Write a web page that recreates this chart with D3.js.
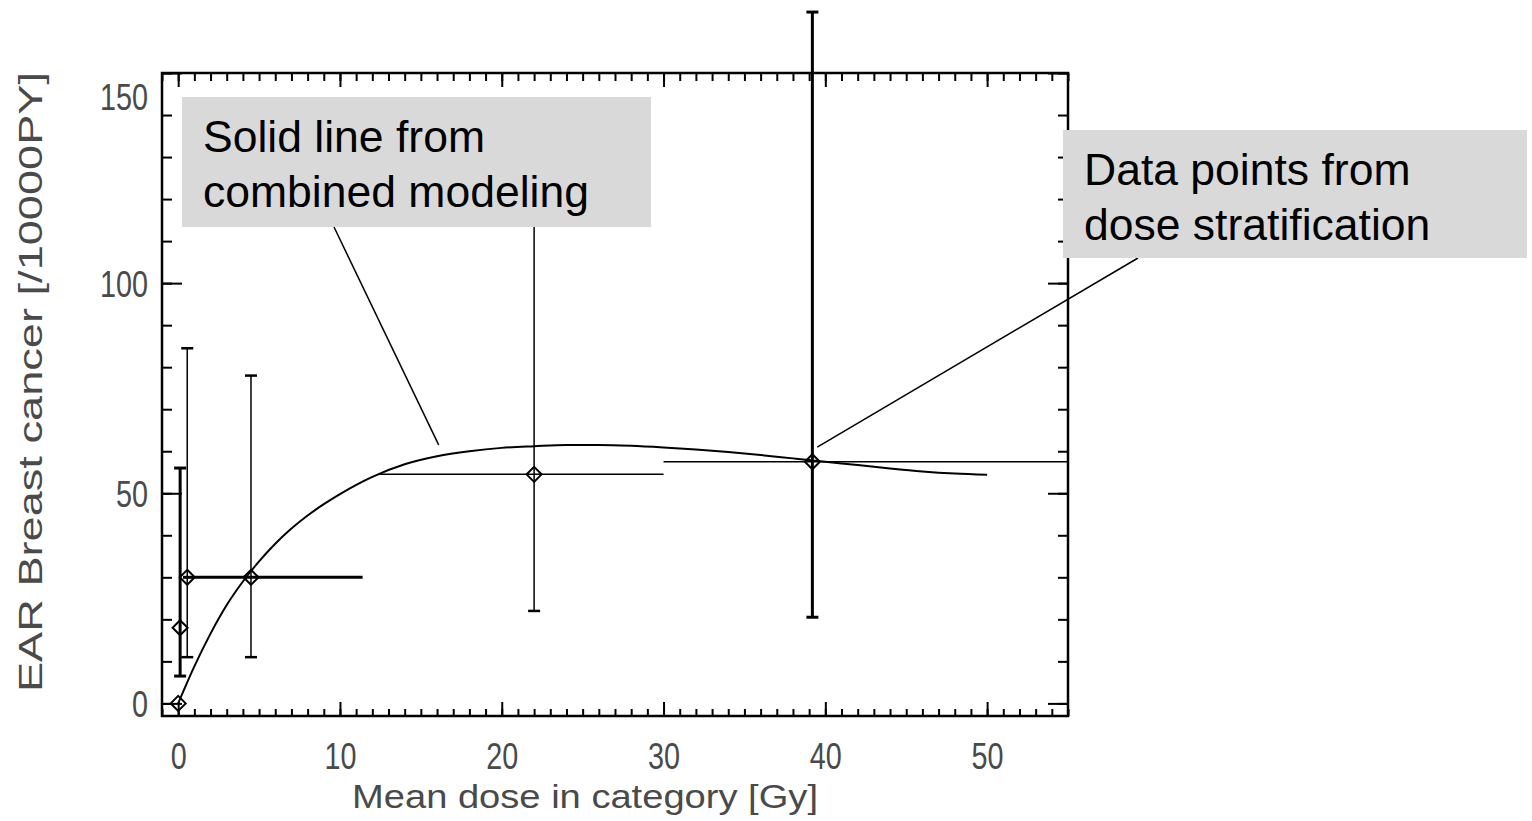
<!DOCTYPE html>
<html><head><meta charset="utf-8">
<script src="https://cdn.jsdelivr.net/npm/d3@7"></script>
<style>html,body{margin:0;padding:0;background:#fff;overflow:hidden}</style>
</head><body><svg id="c" width="1532" height="821"></svg>
<script>
// ---- data ----
const doseX    = [0, 0.12, 0.56, 4.5, 22.0, 39.2];
const earY     = [0, 18, 30, 30, 54.5, 57.5];
const earLow   = [0, 6.5, 11, 11, 22, 20.5];
const earHigh  = [0, 56, 84.5, 78, 125, 164.5];
const doseLow  = [0, 0.12, 0.3, 1.0, 12.4, 30];
const doseHigh = [0, 0.12, 1.0, 11.4, 30, 55];

const modelDose = [0,1,2,3,4,5,6,7,8,9,10,12,14,16,18,20,22,24,26,28,30,32,34,36,38,40,42,44,46,48,50];
const modelEAR  = [0,8.8,16.6,23.4,29.0,33.8,38.0,41.6,44.7,47.4,49.8,53.9,56.9,58.8,60.0,60.8,61.2,61.5,61.5,61.3,60.9,60.4,59.8,59.1,58.3,57.5,56.7,55.9,55.2,54.7,54.4];

const xMajorTicks = [0,10,20,30,40,50];
const yMajorTicks = [0,50,100,150];
const xTitle = "Mean dose in category [Gy]";
const yTitle = "EAR Breast cancer [/10000PY]";
const note1 = ["Solid line from", "combined modeling"];
const note2 = ["Data points from", "dose stratification"];
const note1Target = [16.1, 61.5];
const note2Target = [39.5, 61];

// ---- styles ----
const vBarWidth = [0, 3, 1.5, 1.5, 1.5, 3];
const hBarWidth = [0, 0, 3, 3, 1.5, 1.5];

const svg = d3.select("#c");
const L = 162, R = 1068, T = 73, B = 716;
const x = d3.scaleLinear().domain([-1, 55]).range([L, R]);
const y = d3.scaleLinear().domain([-3, 150]).range([B, T]);

const tickFont = "'Liberation Sans Narrow', 'Liberation Sans', sans-serif";
const labColor = "#4a4a4a";

const xMinor = d3.range(-1, 56, 1);
const yMinor = d3.range(0, 151, 10);
function styleAxis(g){ g.select(".domain").remove(); g.selectAll("line").attr("stroke","#000").attr("stroke-width",2); }
function styleLabels(g){
  g.selectAll("text").attr("font-family",tickFont).attr("font-size",36).attr("fill",labColor)
    .attr("textLength", function(){ return this.textContent.length*16; })
    .attr("lengthAdjust","spacingAndGlyphs");
}

svg.append("g").attr("transform",`translate(0,${B})`)
  .call(d3.axisBottom(x).tickValues(xMinor).tickSize(-7).tickFormat("")).call(styleAxis);
svg.append("g").attr("transform",`translate(0,${T})`)
  .call(d3.axisTop(x).tickValues(xMinor).tickSize(-8).tickFormat("")).call(styleAxis);
svg.append("g").attr("transform",`translate(0,${B})`)
  .call(d3.axisBottom(x).tickValues(xMajorTicks).tickSize(-14).tickPadding(27).tickFormat(d3.format("d")))
  .call(styleAxis).call(styleLabels);
svg.append("g").attr("transform",`translate(0,${T})`)
  .call(d3.axisTop(x).tickValues(xMajorTicks).tickSize(-14).tickFormat("")).call(styleAxis);

svg.append("g").attr("transform",`translate(${L},0)`)
  .call(d3.axisLeft(y).tickValues(yMinor).tickSize(-10).tickFormat("")).call(styleAxis);
svg.append("g").attr("transform",`translate(${R},0)`)
  .call(d3.axisRight(y).tickValues(yMinor).tickSize(-10).tickFormat("")).call(styleAxis);
svg.append("g").attr("transform",`translate(${L},0)`)
  .call(d3.axisLeft(y).tickValues(yMajorTicks).tickSize(-20).tickPadding(14).tickFormat(d3.format("d")))
  .call(styleAxis).call(styleLabels)
  .call(g=>g.selectAll("text").attr("dy", d => d === 150 ? "1.0em" : "0.36em"));
svg.append("g").attr("transform",`translate(${R},0)`)
  .call(d3.axisRight(y).tickValues(yMajorTicks).tickSize(-20).tickFormat("")).call(styleAxis);

// frame
svg.append("rect").attr("x",L).attr("y",T).attr("width",R-L).attr("height",B-T)
  .attr("fill","none").attr("stroke","#000").attr("stroke-width",2.5);

// axis titles
svg.append("text").attr("x",585).attr("y",808).attr("text-anchor","middle")
  .attr("font-family",tickFont).attr("font-size",34).attr("fill",labColor)
  .attr("textLength",466).attr("lengthAdjust","spacingAndGlyphs").text(xTitle);
svg.append("text").attr("transform","translate(42,382) rotate(-90)").attr("text-anchor","middle")
  .attr("font-family",tickFont).attr("font-size",34).attr("fill",labColor)
  .attr("textLength",620).attr("lengthAdjust","spacingAndGlyphs").text(yTitle);

// model curve
const curve = modelDose.map((d,i)=>[d, modelEAR[i]]);
svg.append("path").datum(curve)
  .attr("d", d3.line().x(d=>x(d[0])).y(d=>y(d[1])).curve(d3.curveMonotoneX))
  .attr("fill","none").attr("stroke","#000").attr("stroke-width",2);

// error bars
const pts = doseX.map((d,i)=>({i, x:d, y:earY[i], lo:earLow[i], hi:earHigh[i], xlo:doseLow[i], xhi:doseHigh[i]}));
const eb = svg.append("g");
pts.forEach(p=>{
  const vw = vBarWidth[p.i], hw = hBarWidth[p.i];
  if (vw > 0 && p.hi > p.lo) {
    eb.append("line").attr("x1",x(p.x)).attr("x2",x(p.x)).attr("y1",y(p.lo)).attr("y2",y(p.hi))
      .attr("stroke","#000").attr("stroke-width",vw);
    [p.lo,p.hi].forEach(v=>{
      eb.append("line").attr("x1",x(p.x)-6).attr("x2",x(p.x)+6).attr("y1",y(v)).attr("y2",y(v))
        .attr("stroke","#000").attr("stroke-width",Math.max(vw,2.5));
    });
  }
  if (hw > 0 && p.xhi > p.xlo) {
    eb.append("line").attr("x1",x(p.xlo)).attr("x2",x(p.xhi)).attr("y1",y(p.y)).attr("y2",y(p.y))
      .attr("stroke","#000").attr("stroke-width",hw);
  }
});
// diamond markers
svg.append("g").selectAll("path").data(pts).join("path")
  .attr("d", p=>{const cx=x(p.x), cy=y(p.y), r=7.5; return `M${cx},${cy-r}L${cx+r},${cy}L${cx},${cy+r}L${cx-r},${cy}Z`;})
  .attr("fill","none").attr("stroke","#000").attr("stroke-width",2);

// annotations
const box1 = {x0:182, y0:97, x1:651, y1:227};
const box2 = {x0:1063, y0:130, x1:1527, y1:258};
svg.append("line").attr("x1",334).attr("y1",box1.y1).attr("x2",x(note1Target[0])).attr("y2",y(note1Target[1]))
  .attr("stroke","#000").attr("stroke-width",1.5);
svg.append("line").attr("x1",1138).attr("y1",box2.y1).attr("x2",x(note2Target[0])).attr("y2",y(note2Target[1]))
  .attr("stroke","#000").attr("stroke-width",1.5);

[[box1,note1],[box2,note2]].forEach(([b,lines])=>{
  svg.append("rect").attr("x",b.x0).attr("y",b.y0).attr("width",b.x1-b.x0).attr("height",b.y1-b.y0).attr("fill","#d9d9d9");
  lines.forEach((t,k)=>{
    svg.append("text").attr("x",b.x0+21).attr("y",b.y0+55+k*55)
      .attr("font-family","'Liberation Sans', Arial, sans-serif").attr("font-size",44.5).attr("fill","#000").text(t);
  });
});
</script>
</body></html>
